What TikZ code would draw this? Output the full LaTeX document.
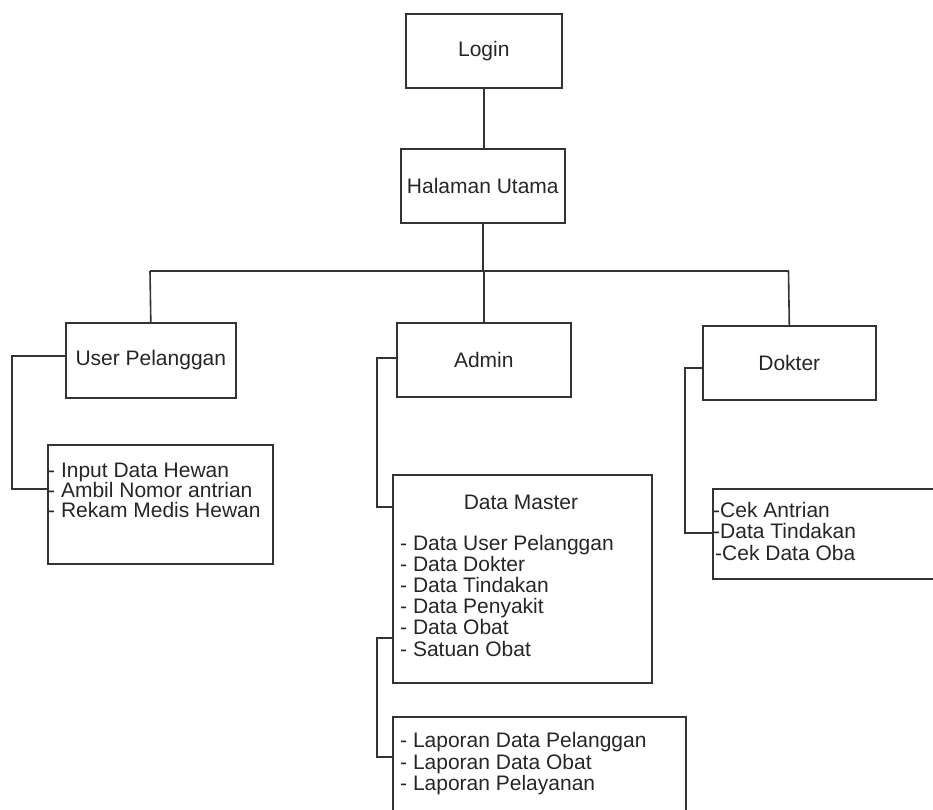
\documentclass[tikz,border=0pt]{standalone}
\usepackage{fontspec}
\setmainfont{Liberation Sans}
\begin{document}
\begin{tikzpicture}[x=1pt,y=-1pt,
  box/.style={draw=black!80, line width=1.6pt, rectangle, inner sep=0pt,
    anchor=north west, font=\fontsize{21}{21}\selectfont, text=black!85},
  lbl/.style={font=\fontsize{21}{21}\selectfont, text=black!85, inner sep=0pt},
  listtext/.style={lbl, align=left, anchor=base west},
  link/.style={draw=black!80, line width=1.6pt}]
\useasboundingbox (0,0) rectangle (933,809);
\clip (0,0) rectangle (933,809);

% main boxes
\node[box, minimum width=156, minimum height=74] (login)  at (405,13)  {Login};
\node[box, minimum width=164, minimum height=74] (home)   at (400,148) {Halaman Utama};
\node[box, minimum width=170, minimum height=75] (user)   at (65,322)  {User Pelanggan};
\node[box, minimum width=174, minimum height=74] (admin)  at (396,322) {Admin};
\node[box, minimum width=173, minimum height=74] (dokter) at (702,325) {Dokter};

% menu boxes
\node[box, minimum width=225, minimum height=119] (userlist)   at (47,444)  {};
\node[box, minimum width=259, minimum height=208] (master)     at (392,474) {};
\node[box, minimum width=293, minimum height=110] (laporan)    at (392,716) {};
\node[box, minimum width=240, minimum height=90]  (dokterlist) at (712,488) {};

% menu texts (base anchor = baseline of the last line)
\node[listtext, font=\fontsize{21}{20}\selectfont] (usertxt) at (48,517)
  {- Input Data Hewan\\- Ambil Nomor antrian\\- Rekam Medis Hewan};
\node[lbl] (mastertitle) at (521,502) {Data Master};
\node[listtext, font=\fontsize{21}{21.2}\selectfont] (mastertxt) at (400,656)
  {- Data User Pelanggan\\- Data Dokter\\- Data Tindakan\\- Data Penyakit\\- Data Obat\\- Satuan Obat};
\node[listtext, font=\fontsize{21}{21.5}\selectfont] (laportxt) at (400,790.5)
  {- Laporan Data Pelanggan\\- Laporan Data Obat\\- Laporan Pelayanan};
\node[listtext, font=\fontsize{21}{21.5}\selectfont] (doktertxt) at (713,560)
  {-Cek Antrian\\-Data Tindakan\\\hspace{2pt}-Cek Data Oba};

% hierarchy connectors
\coordinate (busL) at (150,271);
\coordinate (busR) at (788.5,271);
\draw[link] (login.south) -- (login.south |- home.north);
\draw[link] (home.south) -- (home.south |- busL);
\draw[link] (busL) -- (busR);
\draw[link] (busL) -- (user.north);
\draw[link] (admin.north |- busL) -- (admin.north);
\draw[link] (busR) -- (dokter.north);

% elbow connectors to the menu boxes
\coordinate (uA) at (12,356);
\coordinate (uB) at (12,489);
\draw[link] (uA -| user.west) -- (uA) -- (uB) -- (uB -| userlist.west);

\coordinate (aA) at (377,358);
\coordinate (aB) at (377,507);
\draw[link] (aA -| admin.west) -- (aA) -- (aB) -- (aB -| master.west);

\coordinate (mA) at (377,638);
\coordinate (mB) at (377,757);
\draw[link] (mA -| master.west) -- (mA) -- (mB) -- (mB -| laporan.west);

\coordinate (dA) at (685,368);
\coordinate (dB) at (685,533);
\draw[link] (dA -| dokter.west) -- (dA) -- (dB) -- (dB -| dokterlist.west);
\end{tikzpicture}
\end{document}
